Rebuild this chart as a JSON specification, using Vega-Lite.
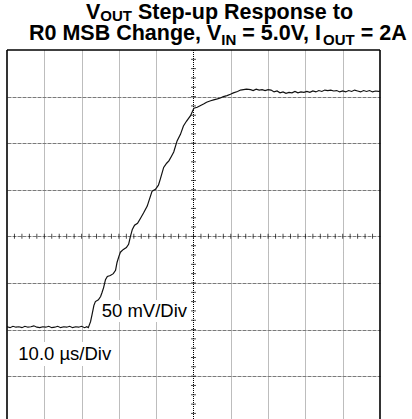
{
  "$schema": "https://vega.github.io/schema/vega-lite/v6.json",
  "width": 373,
  "height": 369,
  "autosize": {"type": "none"},
  "padding": {"left": 7, "top": 50, "right": 32, "bottom": 0},
  "background": "white",
  "config": {"view": {"stroke": null}, "font": "Liberation Sans"},
  "datasets": {
    "one": [{"k": 1}],
    "trace": [
      {"t": -5.00, "v": -1.94}, {"t": -4.92, "v": -1.96}, {"t": -4.84, "v": -1.93}, {"t": -4.76, "v": -1.95},
      {"t": -4.68, "v": -1.94}, {"t": -4.60, "v": -1.96}, {"t": -4.52, "v": -1.93}, {"t": -4.44, "v": -1.95},
      {"t": -4.36, "v": -1.94}, {"t": -4.28, "v": -1.92}, {"t": -4.20, "v": -1.95}, {"t": -4.12, "v": -1.96},
      {"t": -4.04, "v": -1.94}, {"t": -3.96, "v": -1.95}, {"t": -3.88, "v": -1.93}, {"t": -3.80, "v": -1.96},
      {"t": -3.72, "v": -1.95}, {"t": -3.64, "v": -1.93}, {"t": -3.56, "v": -1.96}, {"t": -3.48, "v": -1.94},
      {"t": -3.40, "v": -1.95}, {"t": -3.32, "v": -1.93}, {"t": -3.24, "v": -1.96}, {"t": -3.16, "v": -1.94},
      {"t": -3.08, "v": -1.95}, {"t": -3.00, "v": -1.93}, {"t": -2.92, "v": -1.96}, {"t": -2.86, "v": -1.94},
      {"t": -2.82, "v": -1.96},
      {"t": -2.76, "v": -1.83}, {"t": -2.72, "v": -1.68}, {"t": -2.67, "v": -1.48}, {"t": -2.63, "v": -1.40},
      {"t": -2.55, "v": -1.36}, {"t": -2.49, "v": -1.29}, {"t": -2.45, "v": -1.20}, {"t": -2.41, "v": -1.10},
      {"t": -2.36, "v": -0.93}, {"t": -2.31, "v": -0.86}, {"t": -2.23, "v": -0.84}, {"t": -2.15, "v": -0.80},
      {"t": -2.09, "v": -0.73}, {"t": -2.05, "v": -0.56}, {"t": -2.00, "v": -0.43}, {"t": -1.96, "v": -0.34},
      {"t": -1.88, "v": -0.28}, {"t": -1.80, "v": -0.24}, {"t": -1.74, "v": -0.17}, {"t": -1.69, "v": 0.00},
      {"t": -1.64, "v": 0.15}, {"t": -1.58, "v": 0.24}, {"t": -1.50, "v": 0.28}, {"t": -1.42, "v": 0.39},
      {"t": -1.34, "v": 0.50}, {"t": -1.24, "v": 0.65}, {"t": -1.18, "v": 0.80}, {"t": -1.11, "v": 0.97},
      {"t": -1.02, "v": 1.01}, {"t": -0.94, "v": 1.10}, {"t": -0.89, "v": 1.23}, {"t": -0.80, "v": 1.48},
      {"t": -0.72, "v": 1.57}, {"t": -0.66, "v": 1.62}, {"t": -0.59, "v": 1.72}, {"t": -0.53, "v": 1.81},
      {"t": -0.44, "v": 2.05}, {"t": -0.35, "v": 2.19}, {"t": -0.27, "v": 2.37}, {"t": -0.19, "v": 2.47},
      {"t": -0.08, "v": 2.59}, {"t": 0.01, "v": 2.75}, {"t": 0.10, "v": 2.77}, {"t": 0.19, "v": 2.81},
      {"t": 0.27, "v": 2.84}, {"t": 0.35, "v": 2.88}, {"t": 0.46, "v": 2.91}, {"t": 0.54, "v": 2.93},
      {"t": 0.64, "v": 2.95}, {"t": 0.72, "v": 2.97}, {"t": 0.80, "v": 3.00}, {"t": 0.90, "v": 3.02},
      {"t": 0.99, "v": 3.05}, {"t": 1.07, "v": 3.08}, {"t": 1.18, "v": 3.11}, {"t": 1.26, "v": 3.14},
      {"t": 1.34, "v": 3.15}, {"t": 1.42, "v": 3.16}, {"t": 1.53, "v": 3.15},
      {"t": 1.60, "v": 3.13}, {"t": 1.68, "v": 3.16}, {"t": 1.76, "v": 3.14}, {"t": 1.84, "v": 3.15},
      {"t": 1.92, "v": 3.13}, {"t": 2.00, "v": 3.15}, {"t": 2.08, "v": 3.14}, {"t": 2.16, "v": 3.10},
      {"t": 2.24, "v": 3.12}, {"t": 2.32, "v": 3.08}, {"t": 2.40, "v": 3.10}, {"t": 2.48, "v": 3.07},
      {"t": 2.56, "v": 3.09}, {"t": 2.64, "v": 3.08}, {"t": 2.72, "v": 3.11}, {"t": 2.80, "v": 3.08},
      {"t": 2.88, "v": 3.10}, {"t": 2.96, "v": 3.09}, {"t": 3.04, "v": 3.11}, {"t": 3.12, "v": 3.09},
      {"t": 3.20, "v": 3.12}, {"t": 3.28, "v": 3.10}, {"t": 3.36, "v": 3.13}, {"t": 3.44, "v": 3.11},
      {"t": 3.52, "v": 3.14}, {"t": 3.60, "v": 3.13}, {"t": 3.68, "v": 3.14}, {"t": 3.76, "v": 3.12},
      {"t": 3.84, "v": 3.13}, {"t": 3.92, "v": 3.10}, {"t": 4.00, "v": 3.12}, {"t": 4.08, "v": 3.10},
      {"t": 4.16, "v": 3.13}, {"t": 4.24, "v": 3.11}, {"t": 4.32, "v": 3.14}, {"t": 4.40, "v": 3.12},
      {"t": 4.48, "v": 3.10}, {"t": 4.56, "v": 3.13}, {"t": 4.64, "v": 3.11}, {"t": 4.72, "v": 3.13},
      {"t": 4.80, "v": 3.10}, {"t": 4.88, "v": 3.12}, {"t": 4.96, "v": 3.11}, {"t": 5.00, "v": 3.12}
    ],
    "ticks": [
      {"p": -4.8}, {"p": -4.6}, {"p": -4.4}, {"p": -4.2}, {"p": -4.0}, {"p": -3.8}, {"p": -3.6}, {"p": -3.4},
      {"p": -3.2}, {"p": -3.0}, {"p": -2.8}, {"p": -2.6}, {"p": -2.4}, {"p": -2.2}, {"p": -2.0}, {"p": -1.8},
      {"p": -1.6}, {"p": -1.4}, {"p": -1.2}, {"p": -1.0}, {"p": -0.8}, {"p": -0.6}, {"p": -0.4}, {"p": -0.2},
      {"p": 0.0}, {"p": 0.2}, {"p": 0.4}, {"p": 0.6}, {"p": 0.8}, {"p": 1.0}, {"p": 1.2}, {"p": 1.4},
      {"p": 1.6}, {"p": 1.8}, {"p": 2.0}, {"p": 2.2}, {"p": 2.4}, {"p": 2.6}, {"p": 2.8}, {"p": 3.0},
      {"p": 3.2}, {"p": 3.4}, {"p": 3.6}, {"p": 3.8}, {"p": 4.0}, {"p": 4.2}, {"p": 4.4}, {"p": 4.6}, {"p": 4.8}
    ],
    "notes": [
      {"s": "50 mV/Div", "x": -2.461, "y": -1.736, "bx": -2.534, "bx2": -0.147, "by": -1.365, "by2": -1.837},
      {"s": "10.0 µs/Div", "x": -4.697, "y": -2.653, "bx": -4.786, "bx2": -2.105, "by": -2.266, "by2": -2.781}
    ],
    "titleMain": [
      {"s": "V", "x": -2.882, "y": 4.675},
      {"s": "Step-up Response to", "x": -1.488, "y": 4.675},
      {"s": "R0 MSB Change, V", "x": -4.410, "y": 4.205},
      {"s": "= 5.0V, I", "x": 1.308, "y": 4.205},
      {"s": "= 2A", "x": 4.483, "y": 4.205}
    ],
    "titleSub": [
      {"s": "OUT", "x": -2.499, "y": 4.63},
      {"s": "IN", "x": 0.745, "y": 4.108},
      {"s": "OUT", "x": 3.472, "y": 4.108}
    ]
  },
  "layer": [
    {
      "data": {"name": "notes"},
      "mark": {"type": "rect", "color": "white"},
      "encoding": {
        "x": {"field": "bx", "type": "quantitative",
          "scale": {"domain": [-5, 5], "nice": false, "zero": false},
          "axis": {"values": [-4, -3, -2, -1, 1, 2, 3, 4], "grid": true, "gridColor": "#7a7a7a", "gridDash": [1, 1], "gridWidth": 1, "labels": false, "ticks": false, "domain": false, "title": null}},
        "x2": {"field": "bx2"},
        "y": {"field": "by", "type": "quantitative",
          "scale": {"domain": [-3.92, 4], "nice": false, "zero": false},
          "axis": {"values": [-3, -2, -1, 0, 1, 2, 3], "grid": true, "gridColor": "#7a7a7a", "gridDash": [4, 1], "gridWidth": 1, "labels": false, "ticks": false, "domain": false, "title": null}},
        "y2": {"field": "by2"}
      }
    },
    {
      "data": {"name": "one"},
      "mark": {"type": "rule", "color": "black", "strokeDash": [1, 1], "strokeWidth": 1},
      "encoding": {"x": {"datum": 0, "type": "quantitative"}}
    },
    {
      "data": {"name": "ticks"},
      "mark": {"type": "tick", "orient": "horizontal", "size": 5, "thickness": 1, "color": "black", "clip": true},
      "encoding": {"y": {"field": "p", "type": "quantitative"}, "x": {"datum": 0, "type": "quantitative"}}
    },
    {
      "data": {"name": "ticks"},
      "mark": {"type": "tick", "orient": "vertical", "size": 5, "thickness": 1, "color": "black", "clip": true},
      "encoding": {"x": {"field": "p", "type": "quantitative"}, "y": {"datum": 0, "type": "quantitative"}}
    },
    {
      "data": {"name": "trace"},
      "mark": {"type": "line", "color": "#111111", "strokeWidth": 1.2},
      "encoding": {"x": {"field": "t", "type": "quantitative"}, "y": {"field": "v", "type": "quantitative"}}
    },
    {
      "data": {"name": "one"},
      "mark": {"type": "rule", "color": "black", "strokeWidth": 1.6},
      "encoding": {"x": {"datum": -5, "type": "quantitative"}}
    },
    {
      "data": {"name": "one"},
      "mark": {"type": "rule", "color": "black", "strokeWidth": 1.6},
      "encoding": {"x": {"datum": 5, "type": "quantitative"}}
    },
    {
      "data": {"name": "one"},
      "mark": {"type": "rule", "color": "black", "strokeWidth": 1.6},
      "encoding": {"y": {"datum": 4, "type": "quantitative"}}
    },
    {
      "data": {"name": "notes"},
      "mark": {"type": "text", "align": "left", "baseline": "alphabetic", "fontSize": 18.5, "font": "Liberation Sans", "color": "black"},
      "encoding": {"x": {"field": "x", "type": "quantitative"}, "y": {"field": "y", "type": "quantitative"}, "text": {"field": "s"}}
    },
    {
      "data": {"name": "titleMain"},
      "mark": {"type": "text", "align": "left", "baseline": "alphabetic", "fontSize": 21.5, "fontWeight": "bold", "font": "Liberation Sans", "color": "black"},
      "encoding": {"x": {"field": "x", "type": "quantitative"}, "y": {"field": "y", "type": "quantitative"}, "text": {"field": "s"}}
    },
    {
      "data": {"name": "titleSub"},
      "mark": {"type": "text", "align": "left", "baseline": "alphabetic", "fontSize": 15, "fontWeight": "bold", "font": "Liberation Sans", "color": "black"},
      "encoding": {"x": {"field": "x", "type": "quantitative"}, "y": {"field": "y", "type": "quantitative"}, "text": {"field": "s"}}
    }
  ]
}
